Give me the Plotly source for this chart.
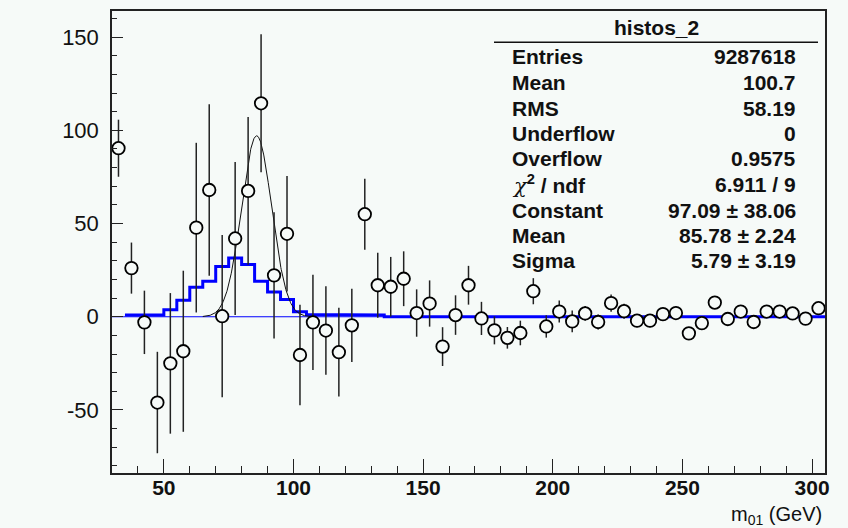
import numpy as np
import plotly.graph_objects as go

# ---- data -------------------------------------------------------------
bin_centers = [32.5, 37.5, 42.5, 47.5, 52.5, 57.5, 62.5, 67.5, 72.5, 77.5,
               82.5, 87.5, 92.5, 97.5, 102.5, 107.5, 112.5, 117.5, 122.5, 127.5,
               132.5, 137.5, 142.5, 147.5, 152.5, 157.5, 162.5, 167.5, 172.5, 177.5,
               182.5, 187.5, 192.5, 197.5, 202.5, 207.5, 212.5, 217.5, 222.5, 227.5,
               232.5, 237.5, 242.5, 247.5, 252.5, 257.5, 262.5, 267.5, 272.5, 277.5,
               282.5, 287.5, 292.5, 297.5, 302.5]
data_vals = [90.4, 26.1, -3.0, -46.0, -25.0, -18.5, 47.8, 68.0, 0.3, 42.0,
             67.5, 114.5, 22.2, 44.5, -20.5, -3.0, -7.4, -19.0, -4.6, 55.0,
             16.9, 16.1, 20.4, 2.0, 7.1, -16.0, 0.9, 16.9, -0.9, -7.3,
             -11.3, -8.7, 13.7, -5.2, 2.8, -2.5, 1.8, -2.8, 7.3, 3.0,
             -2.1, -2.1, 1.4, 2.0, -8.9, -3.4, 7.6, -1.2, 2.8, -2.8,
             2.8, 2.8, 1.8, -1.0, 4.6]
data_errs = [15.3, 13.7, 17.0, 27.2, 37.7, 43.2, 45.5, 46.0, 43.5, 41.0,
             39.6, 37.0, 33.8, 31.0, 27.0, 25.5, 23.7, 23.8, 19.6, 19.0,
             17.4, 16.0, 14.7, 12.7, 12.4, 10.4, 10.6, 10.4, 8.9, 7.5,
             5.8, 6.6, 7.0, 6.0, 5.9, 5.8, 4.0, 4.0, 4.6, 4.0,
             3.5, 3.5, 3.5, 3.5, 3.0, 3.0, 3.0, 3.0, 3.0, 2.5,
             2.5, 2.5, 2.5, 2.5, 2.5]

bin_edges = [30 + 5 * i for i in range(56)]
blue_vals = [0.0, 0.9, 0.9, 0.9, 3.7, 8.9, 15.8, 19.0, 27.0, 31.5,
             28.0, 19.0, 13.3, 9.2, 2.7, 1.2, 1.2, 1.0, 1.0, 1.0,
             1.0, 0.0, 0.0, 0.0, 0.0, 0.0, 0.0, 0.0, 0.0, 0.0,
             0.0, 0.0, 0.0, 0.0, 0.0, 0.0, 0.0, 0.0, 0.0, 0.0,
             0.0, 0.0, 0.0, 0.0, 0.0, 0.0, 0.0, 0.0, 0.0, 0.0,
             0.0, 0.0, 0.0, 0.0, 0.0]

fit_constant = 97.09
fit_mean = 85.78
fit_sigma = 5.79
fit_range = [65.0, 106.5]

stat_labels = ["Entries", "Mean", "RMS", "Underflow", "Overflow",
               "<span style='font-family:DejaVu Serif;font-weight:normal;font-style:italic'>χ</span><sup>2</sup> / ndf",
               "Constant", "Mean", "Sigma"]
stat_values = ["9287618", "100.7", "58.19", "0", "0.9575", "6.911 / 9",
               "97.09 ± 38.06", "85.78 ± 2.24", "5.79 ± 3.19"]
stat_title = "histos_2"

x_ticks = [50, 100, 150, 200, 250, 300]
x_tick_text = ["50", "100", "150", "200", "250", "300"]
y_ticks = [-50, 0, 50, 100, 150]
y_tick_text = ["-50", "0", "50", "100", "150"]

BG = "#f6faf8"
W, H = 848, 528
L, R, T, B = 112, 825, 9, 473

def px(xp):
    return (xp - L) / (R - L)

def py(yp):
    return (B - yp) / (B - T)

fig = go.Figure()

# thin blue zero line
fig.add_trace(go.Scatter(x=[bin_edges[0], bin_edges[-1]], y=[0, 0], mode="lines",
                         line=dict(color="#0000ff", width=1.2), hoverinfo="skip",
                         showlegend=False))

# thick blue histogram (step)
hx, hy = [], []
for i in range(1, len(blue_vals)):
    hx += [bin_edges[i], bin_edges[i + 1]]
    hy += [blue_vals[i], blue_vals[i]]
fig.add_trace(go.Scatter(x=hx, y=hy, mode="lines", line=dict(color="#0000ff", width=3),
                         hoverinfo="skip", showlegend=False))

# gaussian fit curve
gx = np.linspace(fit_range[0], fit_range[1], 300)
gy = fit_constant * np.exp(-0.5 * ((gx - fit_mean) / fit_sigma) ** 2)
fig.add_trace(go.Scatter(x=gx, y=gy, mode="lines", line=dict(color="#111111", width=1),
                         hoverinfo="skip", showlegend=False))

# data points with error bars
fig.add_trace(go.Scatter(
    x=bin_centers, y=data_vals, mode="markers",
    error_y=dict(type="data", array=data_errs, visible=True, color="#222222",
                 thickness=1.5, width=0),
    marker=dict(symbol="circle", size=12.5, color=BG, line=dict(color="#000000", width=1.8)),
    showlegend=False))

axis_common = dict(showline=True, linecolor="#222222", linewidth=1.5, mirror=True,
                   showgrid=False, zeroline=False, ticks="inside", tickcolor="#222222",
                   tickwidth=1.2)

fig.update_xaxes(range=[30, 305], tickvals=x_ticks, ticktext=x_tick_text, ticklen=14,
                 tickfont=dict(family="Liberation Sans", size=21, color="#111111", weight="bold"),
                 minor=dict(dtick=10, tick0=0, ticks="inside", ticklen=7, tickcolor="#222222", tickwidth=1.2),
                 ticklabelstandoff=-5, **axis_common)
fig.update_yaxes(range=[-83.8, 164], tickvals=y_ticks, ticktext=y_tick_text, ticklen=11,
                 tickfont=dict(family="Liberation Sans", size=22, color="#111111"),
                 minor=dict(dtick=10, tick0=0, ticks="inside", ticklen=5.5, tickcolor="#222222", tickwidth=1.2),
                 ticklabelstandoff=7, **axis_common)

annotations = []
# axis title
annotations.append(dict(x=px(824), y=py(516), xref="paper", yref="paper", xanchor="right",
                        yanchor="middle", showarrow=False, text="m<sub>01</sub> (GeV)",
                        font=dict(family="Liberation Sans", size=20, color="#111111")))
# stats title
annotations.append(dict(x=px(656), y=py(26), xref="paper", yref="paper", xanchor="center",
                        yanchor="middle", showarrow=False, text=stat_title,
                        font=dict(family="Liberation Sans", size=21, color="#111111", weight="bold")))
row_y = [55, 81, 106.5, 132, 157.5, 183, 209, 234.5, 260]
for lab, val, yy in zip(stat_labels, stat_values, row_y):
    annotations.append(dict(x=px(510), y=py(yy), xref="paper", yref="paper", xanchor="left",
                            yanchor="middle", showarrow=False, text=lab,
                            font=dict(family="Liberation Sans", size=21, color="#111111", weight="bold")))
    annotations.append(dict(x=px(798), y=py(yy), xref="paper", yref="paper", xanchor="right",
                            yanchor="middle", showarrow=False, text=val,
                            font=dict(family="Liberation Sans", size=21, color="#111111", weight="bold")))

shapes = [dict(type="line", xref="paper", yref="paper", x0=px(494), x1=px(818),
               y0=py(40.5), y1=py(40.5), line=dict(color="#111111", width=1.5))]

fig.update_layout(width=W, height=H, margin=dict(l=L, r=W - R, t=T, b=H - B),
                  paper_bgcolor=BG, plot_bgcolor=BG, annotations=annotations, shapes=shapes,
                  showlegend=False)

fig.write_html("out.html")
